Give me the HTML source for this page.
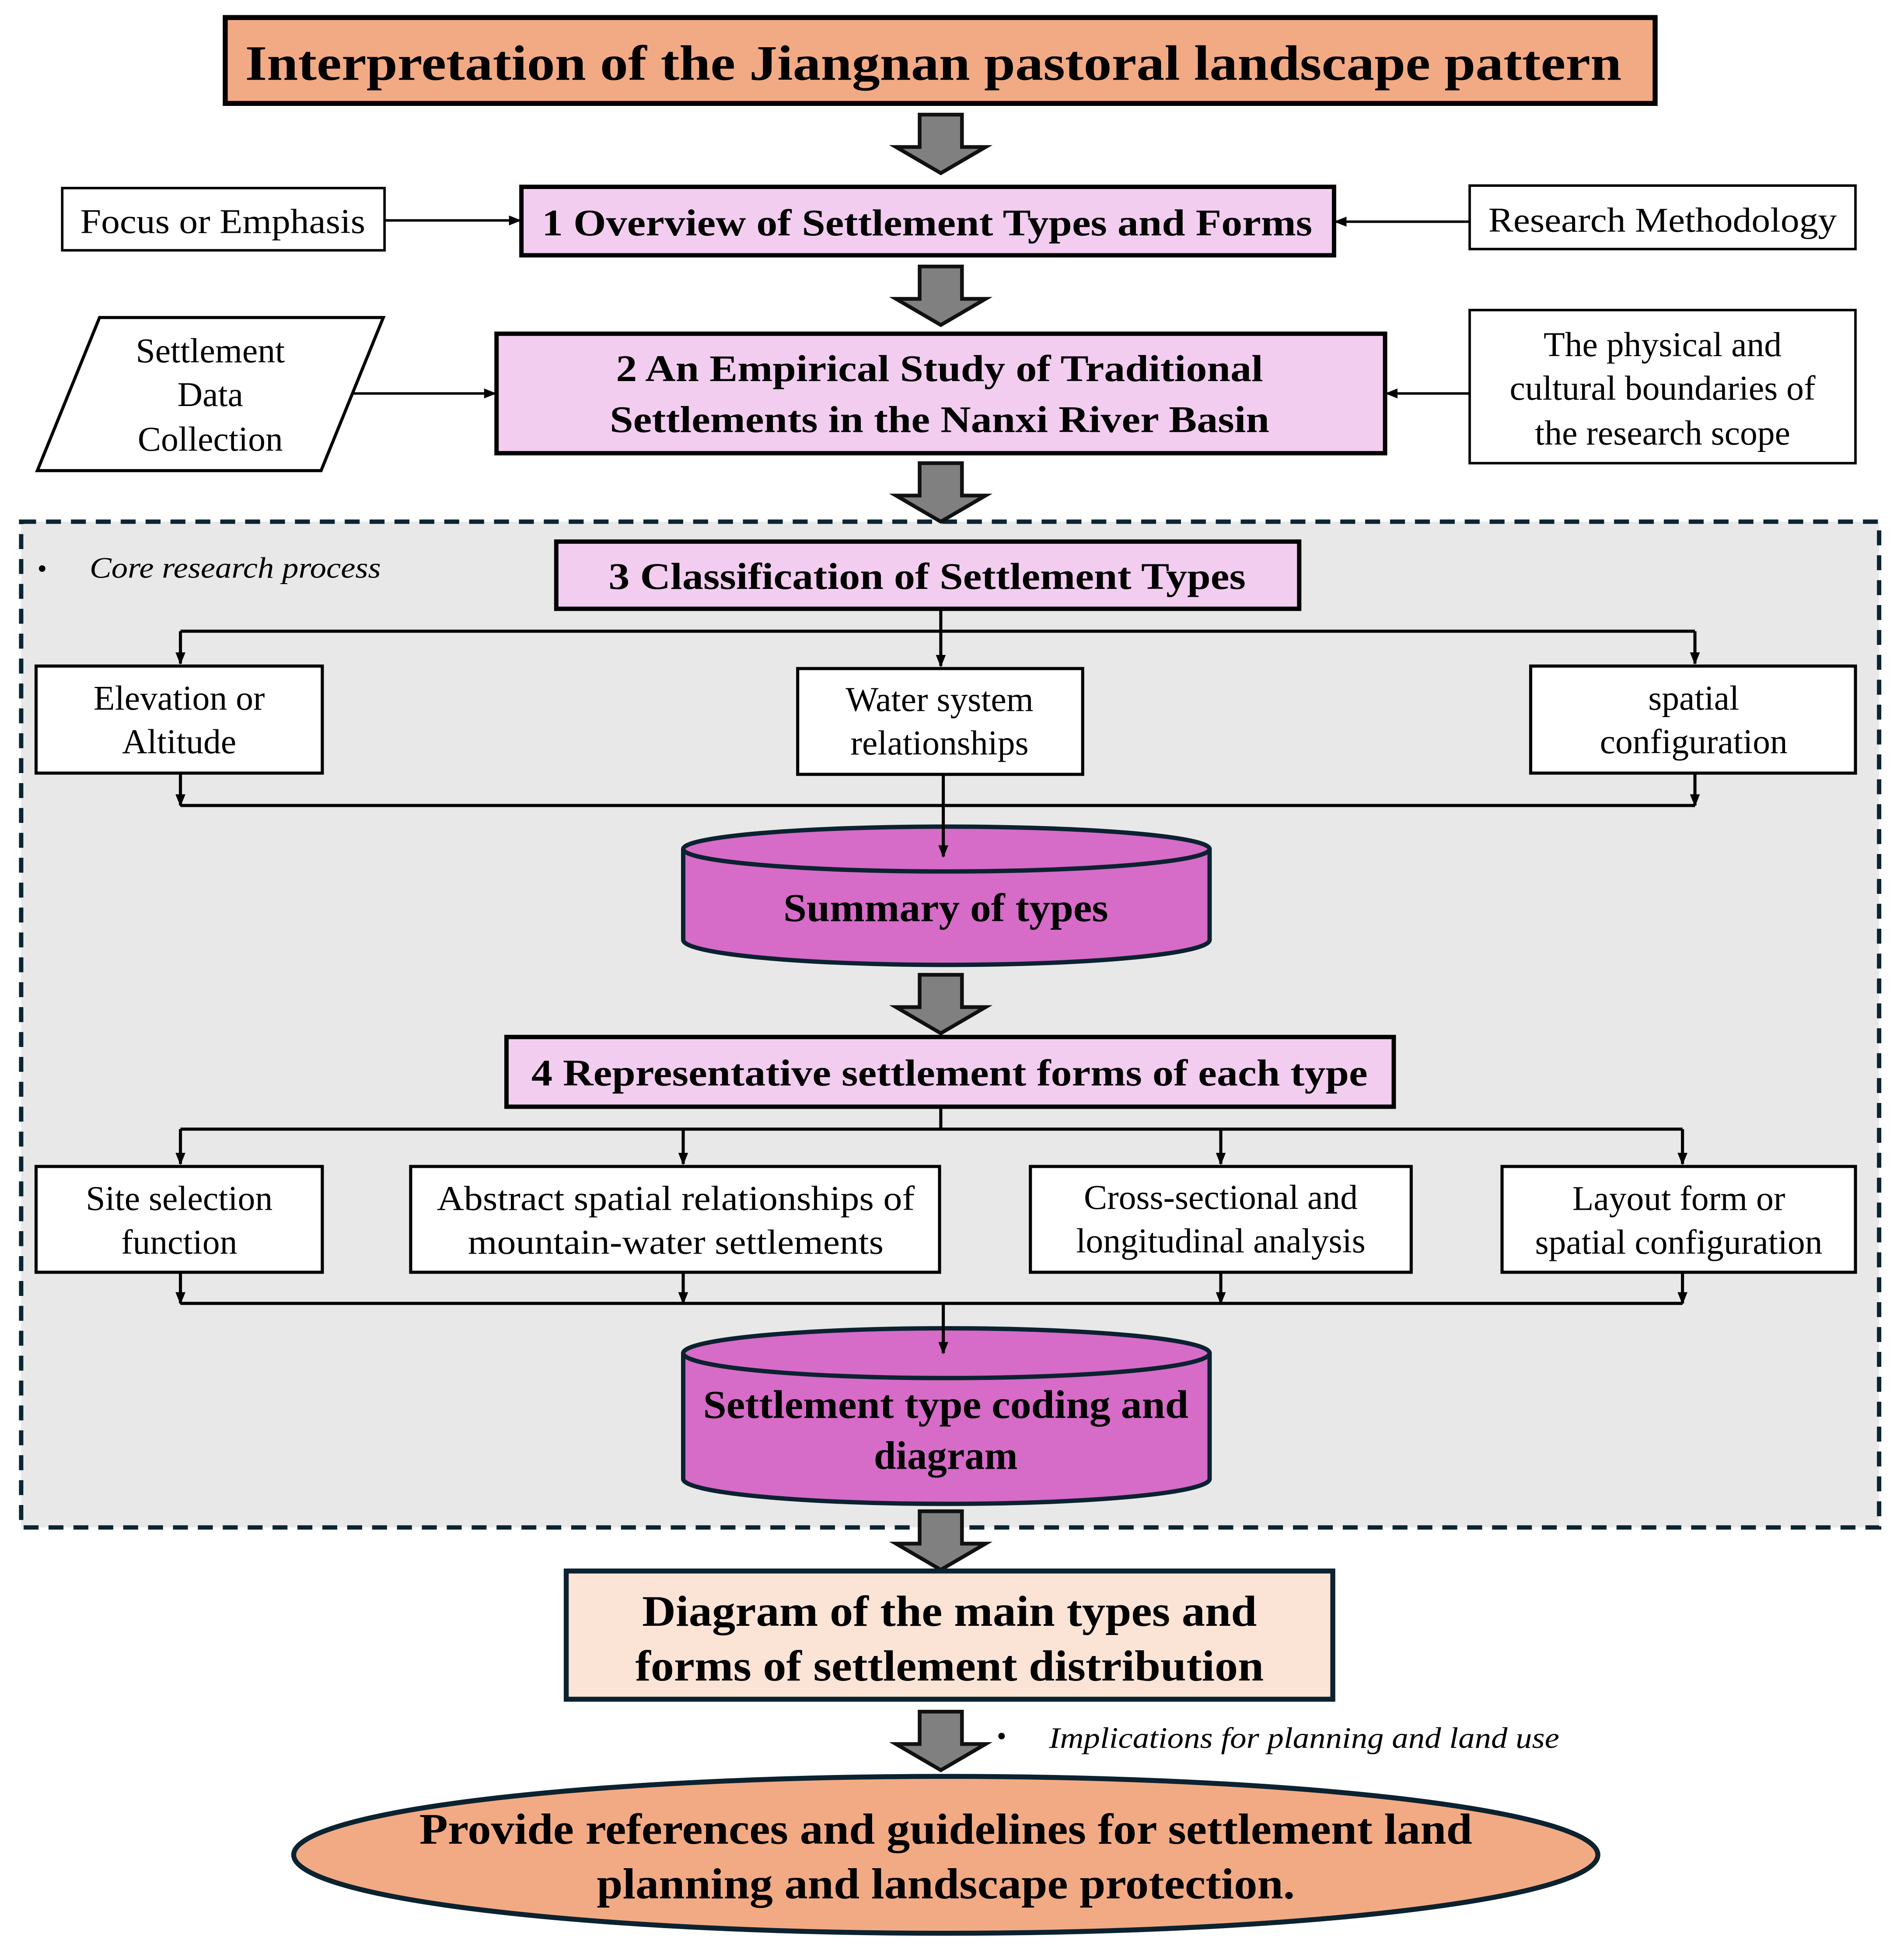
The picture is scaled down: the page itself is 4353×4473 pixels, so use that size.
<!DOCTYPE html>
<html><head><meta charset="utf-8"><style>html,body{margin:0;padding:0;background:#fff}svg{display:block}svg text{font-family:"Liberation Serif","Times New Roman",Times,serif}</style></head><body>
<svg xmlns="http://www.w3.org/2000/svg" width="4353" height="4473" viewBox="0 0 1530 1572">
<defs>
<marker id="ah" markerWidth="10" markerHeight="10" refX="9" refY="5" orient="auto" markerUnits="userSpaceOnUse"><path d="M0,1 L10,5 L0,9 z" fill="#000"/></marker>
<g id="bigarrow"><path d="M-17,0 H17 V26 H36 L0,47 L-36,26 H-17 Z" fill="#808080" stroke="#111" stroke-width="3" stroke-linejoin="miter"/></g>
</defs>
<rect width="1530" height="1572" fill="#fff"/>

<rect x="181" y="14" width="1149" height="69" fill="#F2AA84" stroke="#000" stroke-width="4"/>
<text x="750" y="64" font-size="40" font-weight="bold" text-anchor="middle" textLength="1106" lengthAdjust="spacingAndGlyphs">Interpretation of the Jiangnan pastoral landscape pattern</text>
<use href="#bigarrow" x="756" y="92"/>

<rect x="50" y="151" width="259" height="50" fill="#fff" stroke="#000" stroke-width="2"/>
<text x="179" y="187" font-size="28" text-anchor="middle" textLength="229" lengthAdjust="spacingAndGlyphs">Focus or Emphasis</text>
<rect x="419" y="150" width="653" height="55" fill="#F2CDEF" stroke="#000" stroke-width="3.5"/>
<text x="745" y="189" font-size="30" font-weight="bold" text-anchor="middle" textLength="619" lengthAdjust="spacingAndGlyphs">1 Overview of Settlement Types and Forms</text>
<rect x="1181" y="149" width="310" height="51" fill="#fff" stroke="#000" stroke-width="2"/>
<text x="1336" y="186" font-size="28" text-anchor="middle" textLength="280" lengthAdjust="spacingAndGlyphs">Research Methodology</text>
<line x1="309" y1="177" x2="418" y2="177" stroke="#000" stroke-width="2" marker-end="url(#ah)"/>
<line x1="1181" y1="178" x2="1073" y2="178" stroke="#000" stroke-width="2" marker-end="url(#ah)"/>
<use href="#bigarrow" x="756" y="214"/>

<polygon points="80,255 308,255 258,378 30,378" fill="#fff" stroke="#000" stroke-width="2.5"/>
<text font-size="28" text-anchor="middle"><tspan x="169" y="291">Settlement</tspan><tspan x="169" y="326">Data</tspan><tspan x="169" y="362">Collection</tspan></text>
<rect x="399" y="268" width="714" height="96" fill="#F2CDEF" stroke="#000" stroke-width="3.5"/>
<text font-size="30" font-weight="bold" text-anchor="middle"><tspan x="755" y="306" textLength="520" lengthAdjust="spacingAndGlyphs">2 An Empirical Study of Traditional</tspan><tspan x="755" y="347" textLength="530" lengthAdjust="spacingAndGlyphs">Settlements in the Nanxi River Basin</tspan></text>
<rect x="1181" y="249" width="310" height="123" fill="#fff" stroke="#000" stroke-width="2"/>
<text font-size="28" text-anchor="middle"><tspan x="1336" y="286">The physical and</tspan><tspan x="1336" y="321">cultural boundaries of</tspan><tspan x="1336" y="357">the research scope</tspan></text>
<line x1="283" y1="316" x2="398" y2="316" stroke="#000" stroke-width="2" marker-end="url(#ah)"/>
<line x1="1181" y1="316" x2="1114" y2="316" stroke="#000" stroke-width="2" marker-end="url(#ah)"/>

<rect x="17" y="419" width="1493" height="808" fill="#E8E8E8" stroke="#0B2433" stroke-width="3.5" stroke-dasharray="12,8"/>
<text x="30" y="464" font-size="22">•</text>
<text x="72" y="464" font-size="24" font-style="italic" textLength="234" lengthAdjust="spacingAndGlyphs">Core research process</text>
<use href="#bigarrow" x="756" y="372"/>

<rect x="447" y="435" width="597" height="54" fill="#F2CDEF" stroke="#000" stroke-width="3.5"/>
<text x="745" y="473" font-size="30" font-weight="bold" text-anchor="middle" textLength="512" lengthAdjust="spacingAndGlyphs">3 Classification of Settlement Types</text>

<g stroke="#000" stroke-width="2.5" fill="none">
<line x1="756" y1="489" x2="756" y2="507"/>
<line x1="145" y1="507" x2="1362" y2="507"/>
<line x1="145" y1="507" x2="145" y2="533" marker-end="url(#ah)"/>
<line x1="756" y1="507" x2="756" y2="535" marker-end="url(#ah)"/>
<line x1="1362" y1="507" x2="1362" y2="533" marker-end="url(#ah)"/>
<line x1="145" y1="621" x2="145" y2="647" marker-end="url(#ah)"/>
<line x1="1362" y1="621" x2="1362" y2="647" marker-end="url(#ah)"/>
<line x1="145" y1="647" x2="1362" y2="647"/>
</g>
<rect x="29" y="535" width="230" height="86" fill="#fff" stroke="#000" stroke-width="2.5"/>
<text font-size="28" text-anchor="middle"><tspan x="144" y="570">Elevation or</tspan><tspan x="144" y="605">Altitude</tspan></text>
<rect x="641" y="537" width="229" height="85" fill="#fff" stroke="#000" stroke-width="2.5"/>
<text font-size="28" text-anchor="middle"><tspan x="755" y="571">Water system</tspan><tspan x="755" y="606">relationships</tspan></text>
<rect x="1230" y="535" width="261" height="86" fill="#fff" stroke="#000" stroke-width="2.5"/>
<text font-size="28" text-anchor="middle"><tspan x="1361" y="570">spatial</tspan><tspan x="1361" y="605">configuration</tspan></text>

<path d="M549,682 V755 A211,20 0 0 0 972,755 V682" fill="#D66BC8" stroke="#0B2230" stroke-width="3.5"/>
<ellipse cx="760.5" cy="682" rx="211.5" ry="18" fill="#D66BC8" stroke="#0B2230" stroke-width="3.5"/>
<line x1="758" y1="622" x2="758" y2="688" stroke="#000" stroke-width="2.5" marker-end="url(#ah)"/>
<text x="760" y="740" font-size="32" font-weight="bold" text-anchor="middle" textLength="261" lengthAdjust="spacingAndGlyphs">Summary of types</text>
<use href="#bigarrow" x="756" y="783"/>

<rect x="407" y="833" width="713" height="56" fill="#F2CDEF" stroke="#000" stroke-width="3.5"/>
<text x="763" y="872" font-size="30" font-weight="bold" text-anchor="middle" textLength="672" lengthAdjust="spacingAndGlyphs">4 Representative settlement forms of each type</text>
<g stroke="#000" stroke-width="2.5" fill="none">
<line x1="756" y1="889" x2="756" y2="907"/>
<line x1="145" y1="907" x2="1352" y2="907"/>
<line x1="145" y1="907" x2="145" y2="935" marker-end="url(#ah)"/>
<line x1="549" y1="907" x2="549" y2="935" marker-end="url(#ah)"/>
<line x1="981" y1="907" x2="981" y2="935" marker-end="url(#ah)"/>
<line x1="1352" y1="907" x2="1352" y2="935" marker-end="url(#ah)"/>
<line x1="145" y1="1022" x2="145" y2="1047" marker-end="url(#ah)"/>
<line x1="549" y1="1022" x2="549" y2="1047" marker-end="url(#ah)"/>
<line x1="981" y1="1022" x2="981" y2="1047" marker-end="url(#ah)"/>
<line x1="1352" y1="1022" x2="1352" y2="1047" marker-end="url(#ah)"/>
<line x1="145" y1="1047" x2="1352" y2="1047"/>
</g>
<rect x="29" y="937" width="230" height="85" fill="#fff" stroke="#000" stroke-width="2.5"/>
<text font-size="28" text-anchor="middle"><tspan x="144" y="972">Site selection</tspan><tspan x="144" y="1007">function</tspan></text>
<rect x="330" y="937" width="425" height="85" fill="#fff" stroke="#000" stroke-width="2.5"/>
<text font-size="28" text-anchor="middle"><tspan x="543" y="972" textLength="384" lengthAdjust="spacingAndGlyphs">Abstract spatial relationships of</tspan><tspan x="543" y="1007" textLength="334" lengthAdjust="spacingAndGlyphs">mountain-water settlements</tspan></text>
<rect x="828" y="937" width="306" height="85" fill="#fff" stroke="#000" stroke-width="2.5"/>
<text font-size="28" text-anchor="middle"><tspan x="981" y="971">Cross-sectional and</tspan><tspan x="981" y="1006">longitudinal analysis</tspan></text>
<rect x="1207" y="937" width="284" height="85" fill="#fff" stroke="#000" stroke-width="2.5"/>
<text font-size="28" text-anchor="middle"><tspan x="1349" y="972">Layout form or</tspan><tspan x="1349" y="1007">spatial configuration</tspan></text>

<path d="M549,1087 V1188 A211,20 0 0 0 972,1188 V1087" fill="#D66BC8" stroke="#0B2230" stroke-width="3.5"/>
<ellipse cx="760.5" cy="1087" rx="211.5" ry="20" fill="#D66BC8" stroke="#0B2230" stroke-width="3.5"/>
<line x1="758" y1="1047" x2="758" y2="1087" stroke="#000" stroke-width="2.5" marker-end="url(#ah)"/>
<text font-size="32" font-weight="bold" text-anchor="middle"><tspan x="760" y="1139" textLength="390" lengthAdjust="spacingAndGlyphs">Settlement type coding and</tspan><tspan x="760" y="1180">diagram</tspan></text>
<use href="#bigarrow" x="756" y="1214"/>

<rect x="455" y="1262" width="616" height="103" fill="#FBE3D6" stroke="#0B2230" stroke-width="4"/>
<text font-size="35" font-weight="bold" text-anchor="middle"><tspan x="763" y="1306" textLength="494" lengthAdjust="spacingAndGlyphs">Diagram of the main types and</tspan><tspan x="763" y="1350" textLength="505" lengthAdjust="spacingAndGlyphs">forms of settlement distribution</tspan></text>
<use href="#bigarrow" x="756" y="1375"/>
<text x="801" y="1402" font-size="22">•</text>
<text x="843" y="1404" font-size="24" font-style="italic" textLength="410" lengthAdjust="spacingAndGlyphs">Implications for planning and land use</text>

<ellipse cx="760" cy="1490" rx="524" ry="63" fill="#F2AA84" stroke="#0B2230" stroke-width="4"/>
<text font-size="35" font-weight="bold" text-anchor="middle"><tspan x="760" y="1481" textLength="846" lengthAdjust="spacingAndGlyphs">Provide references and guidelines for settlement land</tspan><tspan x="760" y="1525" textLength="561" lengthAdjust="spacingAndGlyphs">planning and landscape protection.</tspan></text>
</svg>
</body></html>
